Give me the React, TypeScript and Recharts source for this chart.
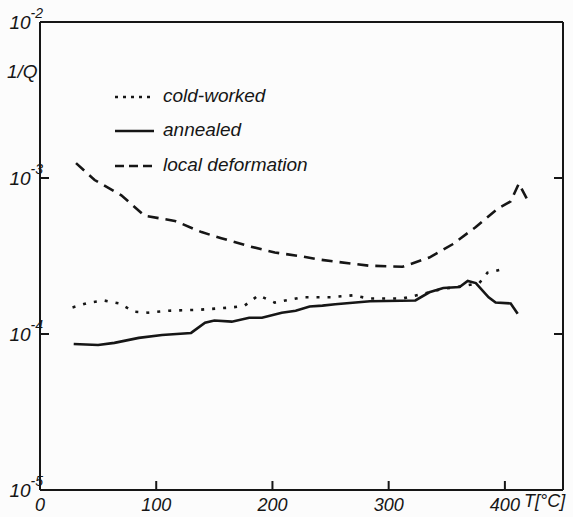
import { Line, LineChart, XAxis, YAxis } from "recharts"

// temperature [°C] and internal friction 1/Q
const coldT = [28, 41, 55, 68, 81, 93, 111, 137, 165, 176, 188, 202, 226, 250, 269, 283, 312, 335, 347, 362, 378, 385, 396]
const coldQ = [
  1.48e-4, 1.58e-4, 1.64e-4, 1.57e-4, 1.39e-4, 1.37e-4, 1.41e-4, 1.43e-4, 1.48e-4, 1.52e-4, 1.77e-4, 1.59e-4,
  1.72e-4, 1.72e-4, 1.77e-4, 1.69e-4, 1.69e-4, 1.85e-4, 1.95e-4, 2.02e-4, 2.12e-4, 2.47e-4, 2.58e-4,
]

const annealedT = [29, 50, 64, 85, 105, 130, 142, 150, 165, 180, 191, 208, 220, 232, 243, 254, 284, 323, 335, 347, 361, 368, 375, 386, 392, 405, 411]
const annealedQ = [
  8.63e-5, 8.5e-5, 8.77e-5, 9.44e-5, 9.86e-5, 1.016e-4, 1.18e-4, 1.22e-4, 1.2e-4, 1.27e-4, 1.27e-4, 1.37e-4,
  1.41e-4, 1.5e-4, 1.52e-4, 1.55e-4, 1.62e-4, 1.64e-4, 1.85e-4, 1.97e-4, 2.0e-4, 2.19e-4, 2.12e-4, 1.72e-4,
  1.59e-4, 1.57e-4, 1.35e-4,
]

const localT = [31, 47, 70, 90, 116, 139, 156, 180, 202, 226, 240, 283, 312, 335, 355, 375, 394, 405, 412, 421]
const localQ = [
  1.245e-3, 9.7e-4, 7.74e-4, 5.73e-4, 5.31e-4, 4.5e-4, 4.11e-4, 3.65e-4, 3.33e-4, 3.14e-4, 3.0e-4, 2.74e-4,
  2.7e-4, 3.09e-4, 3.76e-4, 4.85e-4, 6.37e-4, 7.08e-4, 9.2e-4, 6.87e-4,
]

const xTicks = [0, 100, 200, 300, 400]
const yTicks = [1e-5, 1e-4, 1e-3, 1e-2]

const toRows = (ts: number[], qs: number[]) => ts.map((t, i) => ({ t, q: qs[i] }))
const coldData = toRows(coldT, coldQ)
const annealedData = toRows(annealedT, annealedQ)
const localData = toRows(localT, localQ)

const font = "'Liberation Sans', Arial, sans-serif"
const ink = "#161616"

function PowerTick(props: any) {
  const { x, y, payload } = props
  const exp = Math.round(Math.log10(payload.value))
  return (
    <text x={x} y={y} dy={7} textAnchor="end" fontFamily={font} fontStyle="italic" fontSize={19} fill={ink}>
      10
      <tspan dy={-11} fontSize={14}>
        {exp}
      </tspan>
    </text>
  )
}

export default function App() {
  return (
    <div style={{ position: "absolute", left: 0, top: 0, width: 573, height: 517, background: "#fcfcfc" }}>
      <LineChart width={573} height={517} margin={{ top: 0, right: 0, bottom: 0, left: 0 }}>
        <XAxis
          xAxisId="bottom"
          dataKey="t"
          type="number"
          domain={[0, 450]}
          ticks={xTicks}
          height={27}
          tickSize={-9}
          tickMargin={17}
          stroke={ink}
          strokeWidth={2}
          tick={{ fill: ink, fontSize: 18, fontStyle: "italic", fontFamily: font }}
        />
        <XAxis
          xAxisId="top"
          orientation="top"
          dataKey="t"
          type="number"
          domain={[0, 450]}
          ticks={xTicks}
          height={22}
          tickSize={-9}
          tickFormatter={() => ""}
          stroke={ink}
          strokeWidth={2}
        />
        <YAxis
          yAxisId="left"
          type="number"
          scale="log"
          domain={[1e-5, 1e-2]}
          ticks={yTicks}
          allowDataOverflow
          width={40}
          tickSize={-9}
          tickMargin={6}
          stroke={ink}
          strokeWidth={2}
          tick={<PowerTick />}
        />
        <YAxis
          yAxisId="right"
          orientation="right"
          type="number"
          scale="log"
          domain={[1e-5, 1e-2]}
          ticks={yTicks}
          allowDataOverflow
          width={10}
          tickSize={-9}
          tickFormatter={() => ""}
          stroke={ink}
          strokeWidth={2}
        />
        <Line
          xAxisId="bottom"
          yAxisId="left"
          data={localData}
          dataKey="q"
          type="linear"
          stroke={ink}
          strokeWidth={2.6}
          strokeDasharray="11 7"
          dot={false}
          isAnimationActive={false}
        />
        <Line
          xAxisId="bottom"
          yAxisId="left"
          data={coldData}
          dataKey="q"
          type="linear"
          stroke={ink}
          strokeWidth={2.6}
          strokeDasharray="3 8"
          dot={false}
          isAnimationActive={false}
        />
        <Line
          xAxisId="bottom"
          yAxisId="left"
          data={annealedData}
          dataKey="q"
          type="linear"
          stroke={ink}
          strokeWidth={2.6}
          dot={false}
          isAnimationActive={false}
        />
      </LineChart>

      {/* axis captions and legend */}
      <div style={{ position: "absolute", left: 7, top: 61, fontFamily: font, fontStyle: "italic", fontSize: 19, color: ink }}>
        1/Q
      </div>
      <div style={{ position: "absolute", left: 524, top: 491, fontFamily: font, fontStyle: "italic", fontSize: 18, color: ink }}>
        T[°C]
      </div>
      <svg style={{ position: "absolute", left: 0, top: 0 }} width={573} height={517}>
        <line x1={115} x2={154} y1={97} y2={97} stroke={ink} strokeWidth={2.4} strokeDasharray="3 5" />
        <line x1={115} x2={154} y1={131} y2={131} stroke={ink} strokeWidth={2.4} />
        <line x1={115} x2={154} y1={166} y2={166} stroke={ink} strokeWidth={2.4} strokeDasharray="9 5" />
      </svg>
      {[
        ["cold-worked", 85],
        ["annealed", 119],
        ["local deformation", 154],
      ].map(([label, top]) => (
        <div
          key={label as string}
          style={{ position: "absolute", left: 163, top: top as number, fontFamily: font, fontStyle: "italic", fontSize: 19, color: ink, whiteSpace: "nowrap" }}
        >
          {label}
        </div>
      ))}
    </div>
  )
}
